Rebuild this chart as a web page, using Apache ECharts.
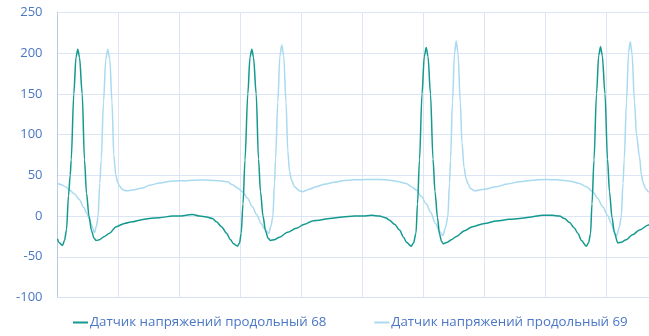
<!DOCTYPE html>
<html>
<head>
<meta charset="utf-8">
<script src="https://cdn.jsdelivr.net/npm/echarts@6/dist/echarts.min.js"></script>
<style>html,body{margin:0;padding:0;background:#fff}#c{width:649px;height:336px}</style>
</head>
<body>
<div id="c"></div>
<script>
// Series names
const seriesNames = ['Датчик напряжений продольный 68', 'Датчик напряжений продольный 69'];
// Y axis ticks
const yTicks = [-100, -50, 0, 50, 100, 150, 200, 250];
// Sensor 68: [time, value]
const sensor68 = [[0,-28],[2,-33],[5,-36],[7,-30],[9,-17],[11,25],[12.7,50],[13.7,69],[16.3,150],[18.5,195],[20.3,205],[22,195],[24.7,150],[27,69],[29,28],[31.5,0],[34,-18],[36.5,-27],[38.7,-30],[42,-29],[47,-25],[52,-21],[58.7,-13],[67,-9],[75,-7],[82,-5],[92,-3],[102,-2],[115,0],[122,0],[129,1],[135,2],[142,0],[149,-1],[155,-3],[159,-7],[164,-13],[169,-21],[173,-29],[176,-34],[180,-37],[182,-33],[183.7,-21],[185.5,15],[187.5,69],[190.3,150],[192.5,195],[194.3,205],[196,195],[198.7,150],[201,70],[203,30],[205.5,0],[208,-18],[210.5,-27],[213,-30],[217,-29],[222,-26],[230,-20],[238.7,-15],[247,-10],[255,-6],[262,-5],[272,-3],[285,-1],[297,0],[305,0],[314,1],[322,0],[328,-2],[332,-5],[337,-10],[342,-17],[346,-26],[349,-32],[353.7,-37],[356,-33],[358.5,-21],[360,15],[362,69],[364.5,150],[366.8,196],[368.7,207],[370.5,196],[373,150],[375.5,70],[377.5,30],[380,-2],[382,-22],[384,-31],[386,-34],[390,-32],[394,-29],[399,-25],[407,-18],[415,-13],[427,-9],[439,-6],[452,-4],[462,-3],[474,-1],[485,1],[495,1],[502,0],[507,-3],[512,-8],[517,-15],[520.3,-21],[524,-30],[528.7,-37],[531,-33],[533,-22],[534.5,15],[536.5,69],[539,150],[541.2,197],[543,208],[544.8,197],[547.5,150],[550,70],[552,30],[554.5,-2],[557,-21],[560.3,-33],[564,-32],[568.7,-29],[575,-23],[582,-17],[591,-11],[600,-7]];
// Sensor 69: [time, value]
const sensor69 = [[0,40],[4,38.5],[8,36],[12,32],[17,27],[22,20],[26,11],[29,4],[32,-4],[34,-11],[37,-20.5],[39,-12],[40.5,-1],[42.3,40],[43.7,69],[46,140],[48.3,193],[50.3,205],[52.3,193],[54.5,140],[56.3,75],[58.3,50],[60,42],[62,37],[65,32.5],[69,31],[75,32],[85,34.5],[92,38],[102,40.5],[115,43],[129,43.5],[142,44.3],[152,44],[162,43.5],[170,42],[175,38.5],[180,34.5],[185,30],[190,22],[195,11.5],[199,2],[203.7,-9],[207,-16],[211.3,-21],[213.5,-12],[215.3,-1],[217,40],[218,69],[220.3,140],[222.4,197],[224.3,210],[226.2,197],[228.5,140],[230.3,80],[232,55],[234,44],[237,36],[242,31],[245.3,30],[252,33],[258.7,36],[267,39],[277,41.5],[285,43.5],[297,44.5],[309,45],[322,45],[332,44],[340,42.5],[348.7,40],[354,36],[358.7,32],[364,24],[368.7,15],[373,5],[378,-9],[382,-19],[385.3,-24],[388,-14],[390.3,-1],[392,40],[393,69],[395,140],[397,200],[398.7,215],[400.5,200],[402.8,140],[404.5,90],[406.5,60],[408.5,46],[410.3,40],[413,34],[417,31],[427,33],[438.7,36],[450,39.5],[462,42],[475,44],[488.7,45],[499,44.5],[508.7,43.5],[514,42.5],[522,40],[529,36],[535.3,30],[540,22],[545.3,11.5],[550,1],[553.7,-9],[556.5,-18],[559.3,-24],[562,-13],[563.7,-1],[565.5,40],[566.7,69],[569,140],[571,200],[572.7,214],[574.5,200],[577,140],[579,100],[582,72.5],[584,50],[585.3,42],[588,34],[591,30],[596,29]];

const colors = ['#14998f', '#a9daf0'];
const FONT = 'Open Sans';
const chart = echarts.init(document.getElementById('c'), null, {renderer: 'canvas'});
chart.setOption({
  animation: false,
  backgroundColor: '#ffffff',
  color: colors,
  grid: {left: 57.5, top: 12.5, right: 0, height: 285, containLabel: false},
  xAxis: {
    type: 'value', min: 0, max: 591.5, interval: 61,
    axisLine: {show: true, onZero: false, lineStyle: {color: '#d6e2f2', width: 1}},
    axisTick: {show: false}, axisLabel: {show: false},
    splitLine: {show: true, lineStyle: {color: '#dbe5f3', width: 1}}
  },
  yAxis: {
    type: 'value', min: yTicks[0], max: yTicks[yTicks.length - 1], interval: 50,
    axisLine: {show: true, lineStyle: {color: '#b7cbe6', width: 1}},
    axisTick: {show: false},
    axisLabel: {color: '#4a76c6', fontFamily: FONT, fontSize: 13, margin: 15},
    splitLine: {show: true, lineStyle: {color: '#dbe5f3', width: 1}}
  },
  legend: {
    left: 73, top: 316, padding: 0, itemWidth: 15, itemHeight: 2, itemGap: 48,
    icon: 'rect',
    textStyle: {color: '#4a76c6', fontFamily: FONT, fontSize: 13.3, padding: [0, 0, 0, -3]},
    data: seriesNames
  },
  series: [
    {name: seriesNames[0], type: 'line', data: sensor68, showSymbol: false, symbol: 'none', smooth: 0.3, smoothMonotone: 'x', lineStyle: {width: 1.5, color: colors[0]}, z: 3},
    {name: seriesNames[1], type: 'line', data: sensor69, showSymbol: false, symbol: 'none', smooth: 0.3, smoothMonotone: 'x', lineStyle: {width: 1.5, color: colors[1]}, z: 2}
  ]
});
</script>
</body>
</html>
